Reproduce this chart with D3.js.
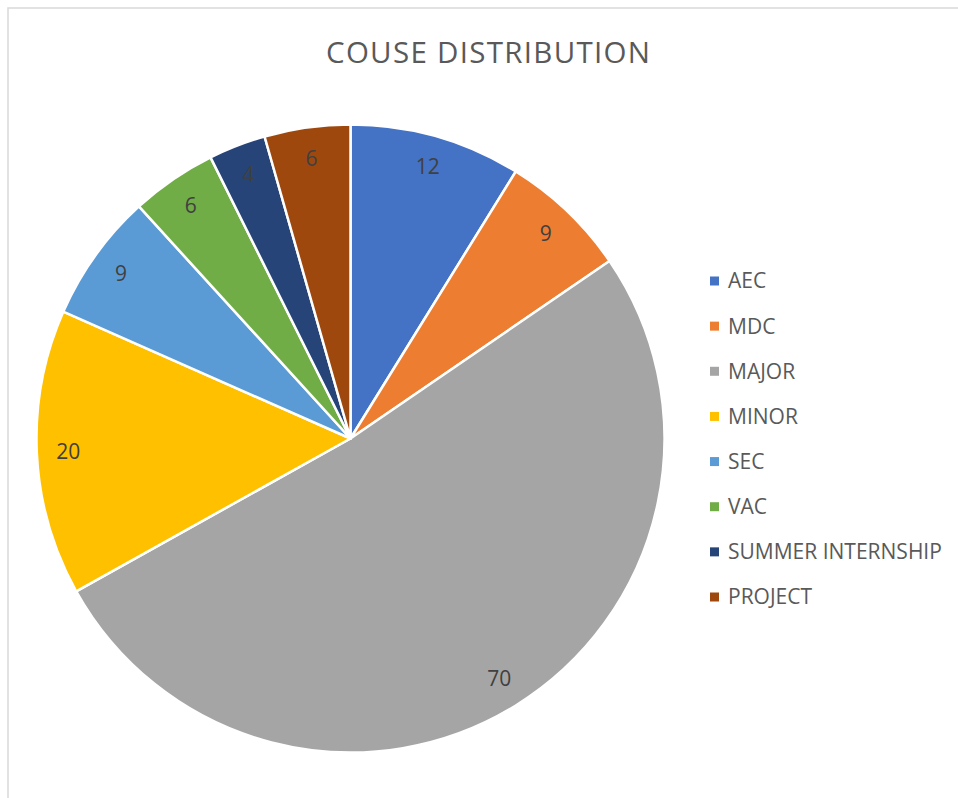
<!DOCTYPE html>
<html>
<head>
<meta charset="utf-8">
<script src="https://cdn.jsdelivr.net/npm/d3@7"></script>
<style>
  html, body { margin: 0; padding: 0; background: #fff; }
  svg { display: block; }
</style>
</head>
<body>
<svg id="chart" width="958" height="798"></svg>
<script>
const title = "COUSE DISTRIBUTION";
const categories = ["AEC", "MDC", "MAJOR", "MINOR", "SEC", "VAC", "SUMMER INTERNSHIP", "PROJECT"];
const values = [12, 9, 70, 20, 9, 6, 4, 6];
const colors = ["#4472C4", "#ED7D31", "#A5A5A5", "#FFC000", "#5B9BD5", "#70AD47", "#264478", "#9E480E"];

const svg = d3.select("#chart");
const W = 958, H = 798;
const font = "'Open Sans', 'Noto Sans', sans-serif";

// chart border (extends beyond the visible area on right and bottom)
svg.append("rect")
  .attr("x", 8).attr("y", 8)
  .attr("width", W + 20).attr("height", H + 20)
  .attr("fill", "#fff")
  .attr("stroke", "#d9d9d9").attr("stroke-width", 1.5);

svg.append("text")
  .attr("x", 326).attr("y", 63)
  .attr("font-family", font)
  .attr("font-size", 29.5)
  .attr("textLength", 324)
  .attr("lengthAdjust", "spacing")
  .attr("fill", "#595959")
  .text(title);

const cx = 350.5, cy = 438.5, R = 314;
const data = categories.map((c, i) => ({ cat: c, value: values[i], color: colors[i] }));
const pie = d3.pie().value(d => d.value).sort(null);
const arcs = pie(data);
const arc = d3.arc().innerRadius(0).outerRadius(R);
const labelArc = d3.arc().innerRadius(R * 0.9).outerRadius(R * 0.9);

const g = svg.append("g").attr("transform", `translate(${cx},${cy})`);
g.selectAll("path.slice").data(arcs).join("path")
  .attr("class", "slice")
  .attr("d", arc)
  .attr("fill", d => d.data.color)
  .attr("stroke", "#fff")
  .attr("stroke-width", 2.5)
  .attr("stroke-linejoin", "round");

g.selectAll("text.lbl").data(arcs).join("text")
  .attr("class", "lbl")
  .attr("transform", d => `translate(${labelArc.centroid(d)})`)
  .attr("text-anchor", "middle")
  .attr("dy", "0.35em")
  .attr("font-family", font)
  .attr("font-size", 21)
  .attr("fill", "#404040")
  .text(d => d.data.value);

const legendY = d3.scalePoint().domain(categories).range([281, 597]);
const lg = svg.append("g");
const items = lg.selectAll("g").data(data).join("g")
  .attr("transform", d => `translate(710,${legendY(d.cat)})`);
items.append("rect")
  .attr("x", 0).attr("y", -4.5).attr("width", 9).attr("height", 9)
  .attr("fill", d => d.color);
items.append("text")
  .attr("x", 18).attr("dy", "0.35em")
  .attr("font-family", font)
  .attr("font-size", 21)
  .attr("fill", "#595959")
  .text(d => d.cat);
</script>
</body>
</html>
